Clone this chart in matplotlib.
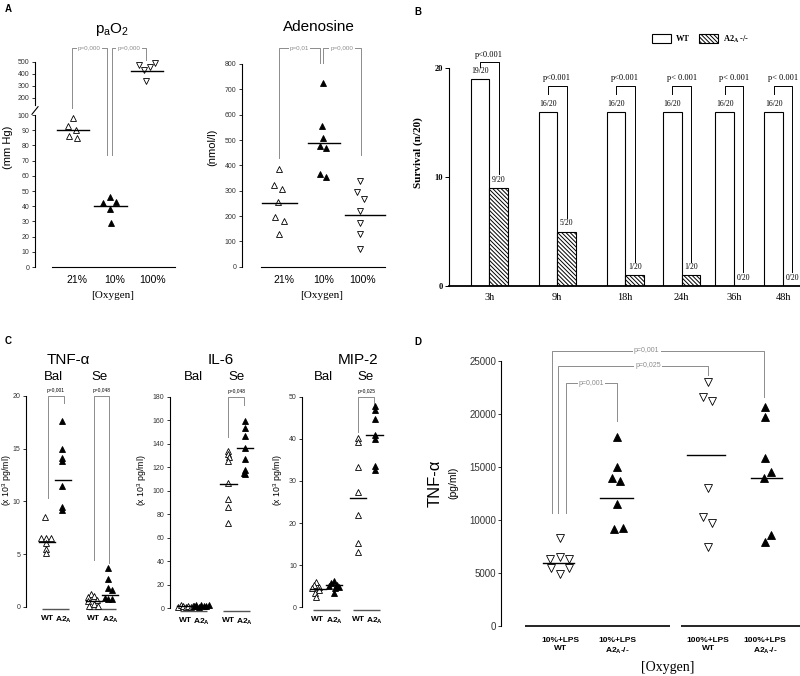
import matplotlib
matplotlib.use("Agg")
import matplotlib.pyplot as plt
from matplotlib.patches import Patch

plt.rcParams["font.family"] = "Liberation Sans"
plt.rcParams["hatch.linewidth"] = 0.7
SERIF = "Liberation Serif"
GRAY = "#8c8c8c"

# ---------------- data ----------------
# A: arterial pO2 (mm Hg) and adenosine (nmol/l)
oxy_cats = ["21%", "10%", "100%"]
po2_21 = [98, 93, 90, 86, 85]
po2_10 = [46, 43, 42, 38, 29]
po2_100 = [475, 461, 489, 433, 344]
po2_med = [90, 40, 425]

ado_21 = [386, 322, 305, 254, 197, 180, 129]
ado_10 = [726, 555, 509, 478, 470, 365, 355]
ado_100 = [338, 294, 268, 219, 174, 129, 69]
ado_med = [252, 490, 203]

# B: survival (n/20)
times = ["3h", "9h", "18h", "24h", "36h", "48h"]
surv_wt = [19, 16, 16, 16, 16, 16]
surv_ko = [9, 5, 1, 1, 0, 0]
surv_p = ["p<0.001", "p<0.001", "p<0.001", "p< 0.001", "p< 0.001", "p< 0.001"]

# C: cytokines (x10^3 pg/ml), Bal / Se, WT / A2A
tnf_bal_wt = [8.5, 6.5, 6.5, 6.5, 6.0, 5.5, 5.1]
tnf_bal_ko = [17.6, 15.0, 14.1, 13.8, 11.5, 9.5, 9.2]
tnf_se_wt = [1.2, 1.0, 0.9, 0.6, 0.5, 0.3, 0.1, 0.1]
tnf_se_ko = [3.7, 2.6, 1.75, 1.6, 0.8, 0.7, 0.7]
tnf_med = [6.1, 12.0, 0.5, 1.14]

il6_bal_wt = [1.5, 2.5, 2.0, 1.2, 2.2, 1.0, 1.8]
il6_bal_ko = [2.0, 2.8, 1.5, 3.0, 2.2, 1.8, 2.5]
il6_se_wt = [133.7, 130.9, 128.9, 125.2, 106.2, 92.6, 86.4, 72.2]
il6_se_ko = [159.2, 153.0, 146.7, 136.0, 126.6, 117.6, 114.7, 114.0]
il6_med = [1.8, 2.2, 106.0, 136.5]

mip_bal_wt = [6.0, 5.2, 4.8, 4.5, 4.0, 3.5, 2.5]
mip_bal_ko = [6.2, 5.7, 5.3, 5.0, 4.8, 4.5, 3.5]
mip_se_wt = [40.3, 39.3, 33.2, 27.3, 21.9, 15.2, 13.2]
mip_se_ko = [47.9, 46.8, 44.8, 41.0, 40.0, 33.5, 32.5]
mip_med = [4.3, 5.2, 26.0, 40.8]

# D: TNF-alpha (pg/ml)
d_cats = ["10%+LPS\nWT", "10%+LPS\nA2$\\mathregular{_A}$-/-",
          "100%+LPS\nWT", "100%+LPS\nA2$\\mathregular{_A}$-/-"]
d_10_wt = [8263, 6315, 6472, 6315, 5435, 5435, 4901]
d_10_ko = [17782, 15017, 13918, 13698, 11499, 9142, 9236]
d_100_wt = [23029, 21615, 21238, 13038, 10305, 9708, 7477]
d_100_ko = [20673, 19730, 15803, 14483, 13918, 8546, 7886]
d_med = [5906, 12095, 16085, 13981]

# ---------------- layout (jitter, positions) ----------------
j_po2 = [[-0.11, -0.23, -0.03, -0.21, 0.01],
         [-0.13, 0.03, -0.32, -0.13, -0.11],
         [-0.36, -0.08, 0.06, -0.23, -0.18]]
j_ado = [[-0.13, -0.25, -0.04, -0.15, -0.22, -0.01, -0.13],
         [-0.02, -0.03, -0.02, -0.09, 0.06, -0.09, 0.07],
         [-0.06, -0.15, 0.03, -0.06, -0.06, -0.06, -0.06]]
j_tnf = [[-0.12, -0.37, -0.08, 0.23, -0.08, -0.08, -0.08],
         [-0.08] * 7,
         [-0.18, 0.02, -0.35, 0.16, -0.37, 0.0, -0.29, 0.26],
         [-0.12, -0.12, -0.12, 0.12, -0.33, -0.12, 0.08]]
j_il6 = [[-0.4, -0.25, -0.1, 0.05, 0.2, 0.35, 0.5],
         [-0.45, -0.3, -0.15, 0.0, 0.15, 0.3, 0.45],
         [0.0, -0.05, 0.05, 0.0, 0.0, 0.0, 0.0, 0.0],
         [0.0, 0.0, 0.0, 0.0, 0.0, 0.05, -0.05, 0.0]]
j_mip = [[-0.1, -0.25, 0.05, -0.35, 0.1, -0.15, -0.1],
         [0.0, -0.2, 0.2, -0.3, 0.3, 0.05, 0.0],
         [0.0] * 7,
         [0.0] * 7]
j_d = [[0, -0.18, 0, 0.16, -0.16, 0.16, 0],
       [0, 0, -0.08, 0.06, 0, -0.05, 0.1],
       [0, -0.1, 0.06, 0, -0.1, 0.06, 0],
       [0, 0, 0, 0.1, -0.02, 0.1, 0]]
b_pos = [0, 1, 2, 2.83, 3.6, 4.32]
d_pos = [0, 1, 2.6, 3.6]

W, H = 800, 676
fig = plt.figure(figsize=(8, 6.76), dpi=100)


def place(left, right, top, bottom, x0, unit, ylo, yhi):
    ax = fig.add_axes([left / W, 1 - bottom / H, (right - left) / W, (bottom - top) / H])
    ax.set_xlim((left - x0) / unit, (right - x0) / unit)
    ax.set_ylim(ylo, yhi)
    ax.patch.set_alpha(0)
    for s in ("top", "right", "bottom"):
        ax.spines[s].set_visible(False)
    ax.tick_params(axis="y", direction="out", length=2.5, width=0.7, pad=1.5,
                   labelsize=5, labelcolor="#333333", color="#333333")
    ax.tick_params(axis="x", length=0)
    return ax


def ftext(x, y, s, **kw):
    kw.setdefault("ha", "center")
    kw.setdefault("va", "center")
    fig.text(x / W, 1 - y / H, s, **kw)


def group(ax, pos, vals, offs, marker, filled, ms, med=None, span=(-0.5, 0.4)):
    ax.plot([pos + o for o in offs], vals, ls="none", marker=marker, ms=ms,
            mfc="black" if filled else "white", mec="black", mew=0.6,
            clip_on=False, zorder=3)
    if med is not None:
        ax.plot([pos + span[0], pos + span[1]], [med, med], color="black",
                lw=1, zorder=4, clip_on=False)


def bracket(ax, x1, x2, ytop, y1, y2, label, fs=4, gap=False, ty=None, tx=None, **kw):
    ax.plot([x1, x1, x2, x2], [y1, ytop, ytop, y2], color=kw.pop("color", GRAY),
            lw=0.7, clip_on=False, zorder=2)
    tx = (x1 + x2) / 2 if tx is None else tx
    if gap:
        ax.text(tx, ytop, label, ha="center", va="center", fontsize=fs, color=GRAY,
                bbox=dict(fc="white", ec="none", pad=0.8), clip_on=False, zorder=5, **kw)
    else:
        ax.text(tx, ty, label, ha="center", va="bottom", fontsize=fs,
                clip_on=False, **kw)


# ================= A: paO2 (broken axis) =================
lo = place(35, 175, 112, 267, 77, 38, 0, 102)
hi = place(35, 175, 58, 106, 77, 38, 133, 533)
lo.set_yticks(range(0, 101, 10))
lo.spines["left"].set_bounds(0, 100)
hi.set_yticks([200, 300, 400, 500])
hi.spines["left"].set_bounds(140, 500)
hi.set_xticks([])
lo.spines["bottom"].set_visible(True)
lo.spines["bottom"].set_bounds(-0.66, 2.58)
lo.set_xticks(range(3))
lo.set_xticklabels(oxy_cats, fontsize=7.5)
lo.tick_params(axis="x", pad=6)
xl = lo.get_xlim()[0]
lo.plot([xl - 0.08, xl + 0.08], [100.5, 105.5], color="black", lw=0.8, clip_on=False)
group(lo, 0, po2_21, j_po2[0], "^", False, 5, po2_med[0], (-0.53, 0.32))
group(lo, 1, po2_10, j_po2[1], "^", True, 5, po2_med[1], (-0.55, 0.32))
group(hi, 2, po2_100, j_po2[2], "v", False, 5, po2_med[2], (-0.59, 0.25))
bracket(lo, -0.14, 0.79, 144, 104.6, 73.7, "p=0,000", fs=4.5, gap=True)
bracket(lo, 0.92, 1.82, 144, 73.7, 136, "p=0,000", fs=4.5, gap=True)
ftext(112, 29, "p$\\mathregular{_a}$O$\\mathregular{_2}$", fontsize=11)
ftext(8, 147, "(mm Hg)", rotation=90, fontsize=8)
ftext(113, 296, "[Oxygen]", fontsize=8, family=SERIF)

# ================= A: adenosine =================
ax = place(241.7, 385, 64, 266.7, 284, 39.3, 0, 800)
ax.set_yticks(range(0, 801, 100))
ax.spines["bottom"].set_visible(True)
ax.spines["bottom"].set_bounds(-0.58, 2.57)
ax.set_xticks(range(3))
ax.set_xticklabels(oxy_cats, fontsize=7.5)
ax.tick_params(axis="x", pad=6)
group(ax, 0, ado_21, j_ado[0], "^", False, 5, ado_med[0], (-0.57, 0.32))
group(ax, 1, ado_10, j_ado[1], "^", True, 5, ado_med[1], (-0.38, 0.42))
group(ax, 2, ado_100, j_ado[2], "v", False, 5, ado_med[2], (-0.45, 0.57))
bracket(ax, -0.12, 0.91, 863, 429, 803, "p=0,01", fs=4.5, gap=True)
bracket(ax, 1.0, 1.95, 863, 803, 441, "p=0,000", fs=4.5, gap=True)
ftext(319, 27, "Adenosine", fontsize=11)
ftext(212, 147, "(nmol/l)", rotation=90, fontsize=8)
ftext(322, 296, "[Oxygen]", fontsize=8, family=SERIF)

# ================= B: survival bars =================
ax = place(449, 800, 68.3, 286, 489.3, 68, 0, 20)
ax.spines["bottom"].set_visible(True)
ax.spines["bottom"].set_linewidth(1.3)
w = 0.274
xw = [p - w / 2 for p in b_pos]
xk = [p + w / 2 for p in b_pos]
ax.bar(xw, surv_wt, width=w, fc="white", ec="black", lw=0.8)
hatch_kw = dict(fc="white", ec="black", lw=0.8, hatch="\\\\\\\\\\\\\\\\")
ax.bar(xk, surv_ko, width=w, **hatch_kw)
for x, v in zip(xw, surv_wt):
    ax.annotate(f"{v}/20", (x, v), xytext=(0, 3), textcoords="offset points",
                ha="center", va="bottom", fontsize=5.5, family=SERIF)
for x, v in zip(xk, surv_ko):
    ax.annotate(f"{v}/20", (x, v), xytext=(0, 3), textcoords="offset points",
                ha="center", va="bottom", fontsize=5.5, family=SERIF)
for i, (a, b, kv, pl) in enumerate(zip(xw, xk, surv_ko, surv_p)):
    if i == 0:
        bracket(ax, a, b, 20.6, 20.15, kv + 1.3, pl, fs=6, ty=20.85,
                family=SERIF, color="black")
    else:
        bracket(ax, a, b, 18.37, 17.6, kv + 1.25, pl, fs=6, ty=18.75,
                family=SERIF, color="black")
ax.set_yticks([0, 10, 20])
ax.set_yticklabels(["0", "10", "20"], fontsize=6, family=SERIF, fontweight="bold", color="black")
ax.tick_params(axis="y", length=3, color="black")
ax.set_xticks(b_pos)
ax.set_xticklabels(times, fontsize=7.5, family=SERIF)
ax.tick_params(axis="x", pad=5)
ax.legend(handles=[Patch(fc="white", ec="black", lw=0.8), Patch(**hatch_kw)],
          labels=["WT", "A2$\\mathregular{_A}$ -/-"], loc="center left",
          bbox_to_anchor=(652 / W, 1 - 39 / H), bbox_transform=fig.transFigure,
          ncol=2, frameon=False, borderpad=0, borderaxespad=0, handlelength=2.3,
          handleheight=1.2, handletextpad=0.6, columnspacing=1.0,
          prop=dict(family=SERIF, weight="bold", size=6))
ftext(418, 153, "Survival (n/20)", rotation=90, fontsize=8, family=SERIF, fontweight="bold")

# ================= C: cytokines =================
ko_lab = "A2$\\mathregular{_A}$"
c_panels = [
    # (axes box, cat0 px, yhi, ystep, se shift, data, medians, jitter, title, title x, bal x, se x, ylabel x, brackets)
    ((26, 125, 396, 606.7), 47, 20, 5, 2.88,
     (tnf_bal_wt, tnf_bal_ko, tnf_se_wt, tnf_se_ko), tnf_med, j_tnf,
     "TNF-α", 68, 53, 100, 7,
     [(0.04, 1.04, 20, 10.35, 19.3, "p=0,001", 20.25), (2.88, 3.82, 20, 4.43, 4.12, "p=0,048", 20.25)]),
    ((170, 260, 396.7, 608.3), 185, 180, 20, 2.66,
     (il6_bal_wt, il6_bal_ko, il6_se_wt, il6_se_ko), il6_med, j_il6,
     "IL-6", 221, 193, 237, 142,
     [(2.66, 3.64, 180, 146, 173, "p=0,048", 182.5)]),
    ((302.3, 392, 396.7, 607.3), 317.7, 50, 10, 2.49,
     (mip_bal_wt, mip_bal_ko, mip_se_wt, mip_se_ko), mip_med, j_mip,
     "MIP-2", 358, 323, 366, 278,
     [(2.49, 3.47, 50, 41.7, 48.2, "p=0,025", 50.7)]),
]
for box, x0, yhi, step, sh, data, meds, jit, title, tx, bx, sx, ylx, brs in c_panels:
    ax = place(box[0], box[1], box[2], box[3], x0, 16.3, 0, yhi)
    ax.set_yticks(range(0, yhi + 1, step))
    pos = [0, 1, sh, sh + 1]
    for k in range(4):
        group(ax, pos[k], data[k], jit[k], "^", k % 2 == 1, 4.5, meds[k], (-0.5, 0.5))
    yb = -0.012 * yhi
    ax.hlines([yb, yb], [-0.3, sh - 0.35], [1.35, sh + 1.35], color="#555555",
              lw=1, clip_on=False)
    ax.set_xticks(pos)
    ax.set_xticklabels(["WT", ko_lab, "WT", ko_lab], fontsize=6, fontweight="bold")
    ax.tick_params(axis="x", pad=6)
    for x1, x2, yt, y1, y2, lab, ty in brs:
        bracket(ax, x1, x2, yt, y1, y2, lab, fs=3.5, ty=ty, color=GRAY)
    ftext(tx, 360, title, fontsize=11)
    ftext(bx, 377, "Bal", fontsize=9.5)
    ftext(sx, 377, "Se", fontsize=9.5)
    ftext(ylx, 480, "(x 10$\\mathregular{^3}$ pg/ml)", rotation=90, fontsize=6.3)

# ================= D: TNF-alpha =================
ax = place(501, 800, 360.7, 626, 560, 57, 0, 25000)
ax.set_yticks(range(0, 25001, 5000))
ax.tick_params(axis="y", labelsize=7, length=2)
d_data = [d_10_wt, d_10_ko, d_100_wt, d_100_ko]
d_span = [(-0.29, 0.25), (-0.3, 0.28), (-0.37, 0.29), (-0.25, 0.29)]
for k in range(4):
    group(ax, d_pos[k], d_data[k], j_d[k], "v" if k % 2 == 0 else "^", k % 2 == 1,
          6, d_med[k], d_span[k])
ax.hlines([0, 0], [-0.61, 2.13], [1.93, 4.21], color="black", lw=1.2, clip_on=False)
ax.set_xticks(d_pos)
ax.set_xticklabels(d_cats, fontsize=6, fontweight="bold", linespacing=1.2)
ax.tick_params(axis="x", pad=8)
bracket(ax, 0.105, 1.0, 22875, 10622, 19350, "p=0,001", fs=5, gap=True)
bracket(ax, -0.03, 2.6, 24533, 10622, 23657, "p=0,025", fs=5, gap=True, tx=1.55)
bracket(ax, -0.146, 3.58, 25919, 10622, 21612, "p=0,001", fs=5, gap=True, tx=1.52)
ftext(435, 483, "TNF-α", rotation=90, fontsize=12)
ftext(453, 483, "(pg/ml)", rotation=90, fontsize=7.5)
ftext(668, 668, "[Oxygen]", fontsize=10, family=SERIF)

# panel letters
ftext(8, 9, "A", fontsize=7, fontweight="bold")
ftext(418, 12, "B", fontsize=7, fontweight="bold")
ftext(8, 341, "C", fontsize=7, fontweight="bold")
ftext(418, 342, "D", fontsize=7, fontweight="bold")

fig.savefig("out.png", dpi=100)
